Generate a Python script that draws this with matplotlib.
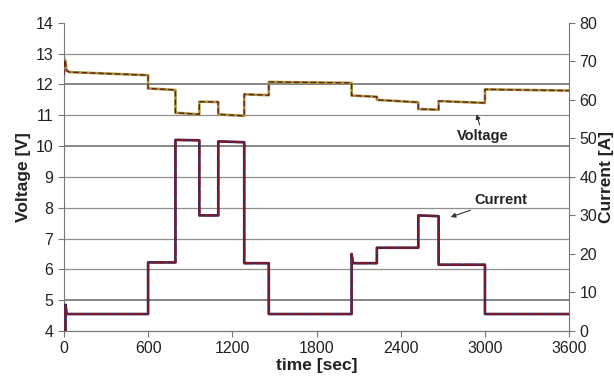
import matplotlib

matplotlib.use("Agg")
import matplotlib.pyplot as plt

plt.rcParams["font.family"] = ["Liberation Sans", "DejaVu Sans"]

# voltage trace (time s, volts)
volt_t = [0, 8, 20, 40, 600, 600, 795, 795, 965, 965, 1100, 1100, 1285, 1285,
          1460, 1460, 2050, 2050, 2230, 2230, 2525, 2525, 2670, 2670, 3000, 3000, 3600]
volt_v = [12.3, 12.8, 12.45, 12.4, 12.3, 11.87, 11.82, 11.08, 11.03, 11.44, 11.43,
          11.03, 10.98, 11.68, 11.65, 12.08, 12.05, 11.64, 11.6, 11.5, 11.42, 11.2,
          11.18, 11.46, 11.4, 11.84, 11.8]

# current trace (time s, amps)
cur_t = [0, 12, 12, 20, 600, 600, 795, 795, 965, 965, 1100, 1100, 1285, 1285, 1460,
         1460, 2050, 2050, 2060, 2230, 2230, 2525, 2525, 2670, 2670, 3000, 3000, 3600]
cur_a = [0, 0, 6.8, 4.4, 4.4, 17.8, 17.8, 49.6, 49.5, 30.0, 30.0, 49.2, 49.0, 17.6,
         17.6, 4.4, 4.4, 20.0, 17.6, 17.6, 21.6, 21.6, 30.0, 29.8, 17.2, 17.2, 4.4, 4.4]

x_ticks = [0, 600, 1200, 1800, 2400, 3000, 3600]
v_ticks = [4, 5, 6, 7, 8, 9, 10, 11, 12, 13, 14]
a_ticks = [0, 10, 20, 30, 40, 50, 60, 70, 80]

txt = "#222222"
fig = plt.figure(figsize=(6.14, 3.8), dpi=100)
ax = fig.add_axes([0.104, 0.129, 0.823, 0.811])
ax2 = ax.twinx()

for v in v_ticks[1:-1]:
    dark = v in (5, 10, 12)
    ax.axhline(v, color="#666666" if dark else "#8f8f8f", lw=1.1 if dark else 0.9, zorder=0)

ax.plot(volt_t, volt_v, color="#a39a3a", lw=1.9, zorder=2)
ax.plot(volt_t, volt_v, color="#6e1c1c", lw=1.0, ls=(0, (4, 2)), zorder=3)
ax2.plot(cur_t, cur_a, color="#2a2a6a", lw=1.9, zorder=2)
ax2.plot(cur_t, cur_a, color="#7d1a28", lw=1.5, ls=(0, (6, 1)), zorder=3)

ax.set_xlim(0, 3600)
ax.set_ylim(4, 14)
ax2.set_ylim(0, 80)
ax.set_xticks(x_ticks)
ax.set_yticks(v_ticks)
ax2.set_yticks(a_ticks)

for a in (ax, ax2):
    a.spines["top"].set_visible(False)
    for s in a.spines.values():
        s.set_color("#777777")
    a.tick_params(colors="#777777", labelcolor=txt, labelsize=11.5, length=4)
ax.spines["right"].set_visible(False)
ax2.spines["left"].set_visible(False)

ax.set_xlabel("time [sec]", fontsize=12.5, fontweight="bold", color=txt, labelpad=1)
ax.set_ylabel("Voltage [V]", fontsize=12.5, fontweight="bold", color=txt, labelpad=3)
ax2.set_ylabel("Current [A]", fontsize=12.5, fontweight="bold", color=txt, labelpad=1)

arrow = dict(arrowstyle="-|>", color="#333333", lw=0.8, mutation_scale=7, shrinkA=1)
ax.annotate("Voltage", xy=(2935, 11.12), xytext=(2985, 10.33), ha="center",
            va="center", fontsize=10.5, fontweight="bold", color=txt, arrowprops=arrow)
ax.annotate("Current", xy=(2737, 7.67), xytext=(3110, 8.25), ha="center",
            va="center", fontsize=10.5, fontweight="bold", color=txt, arrowprops=arrow)

fig.savefig("out.png", dpi=100)
